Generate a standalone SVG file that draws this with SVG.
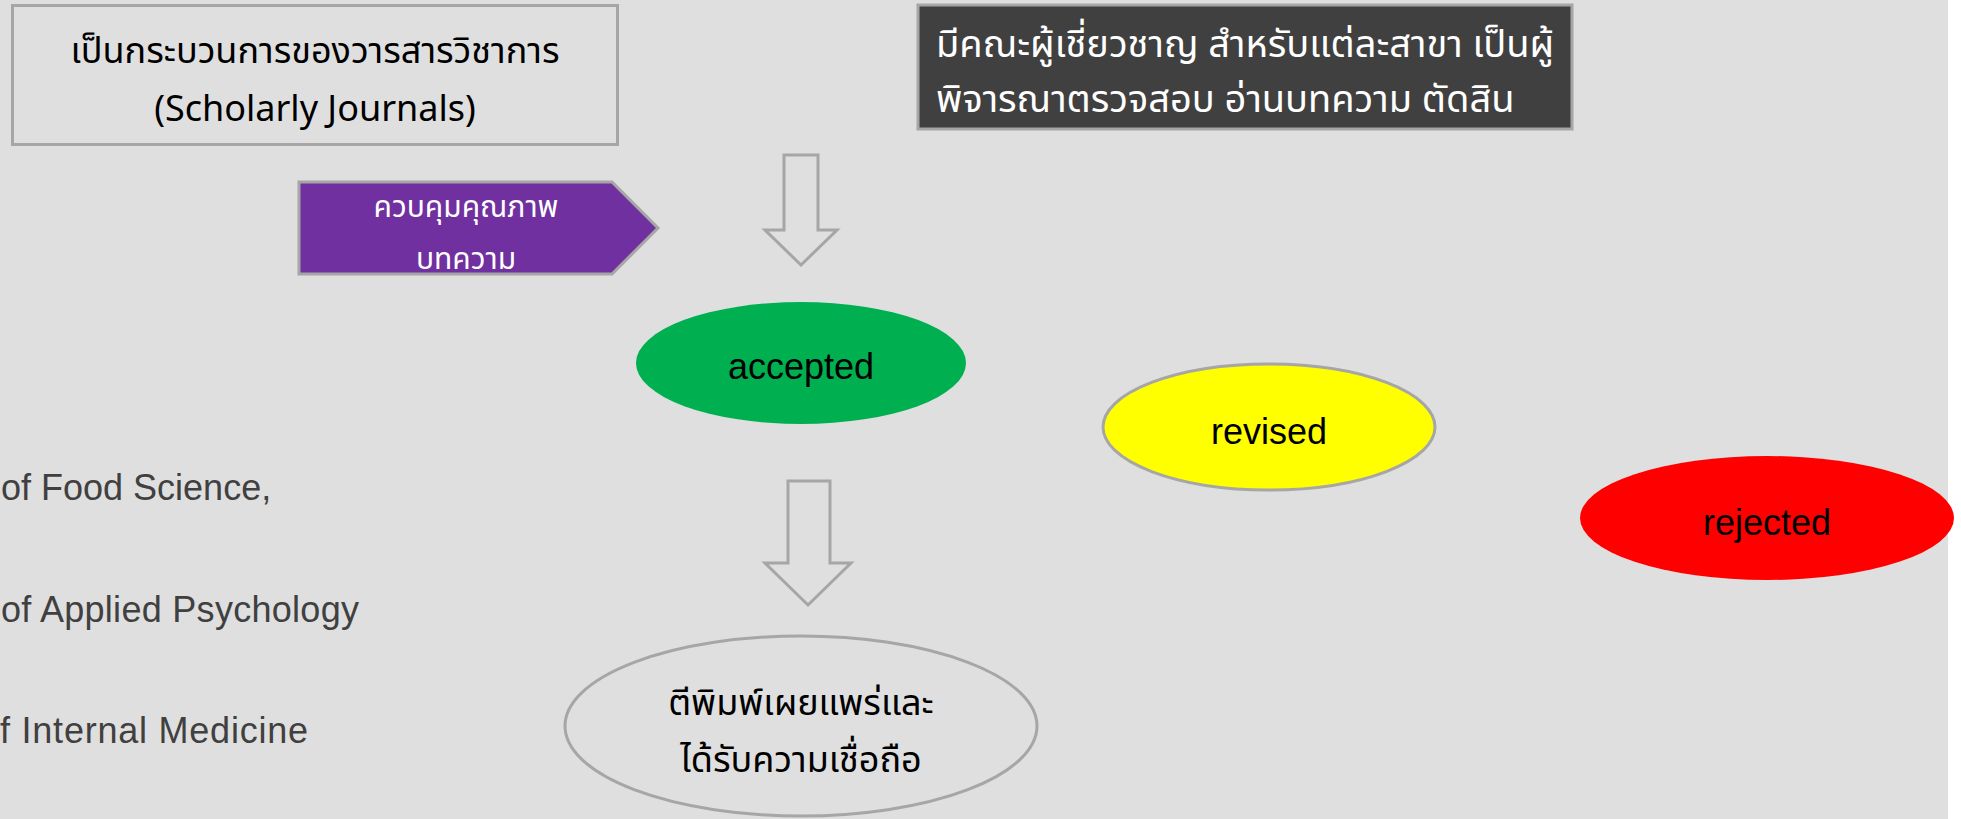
<svg xmlns="http://www.w3.org/2000/svg" width="1961" height="819" viewBox="0 0 1961 819">
<style>
.th{font-family:"Noto Sans Thai","Noto Sans Thai Looped","Noto Sans","DejaVu Sans",sans-serif;}
.lat{font-family:"Liberation Sans","Noto Sans",sans-serif;}
.box{stroke:#a6a6a6;stroke-width:3;}
.arrow{fill:#dfdfdf;stroke:#a6a6a6;stroke-width:3;stroke-linejoin:miter;}
</style>
<rect x="0" y="0" width="1961" height="819" fill="#ffffff"/>
<rect x="0" y="0" width="1948" height="819" fill="#dfdfdf"/>

<g id="journal-process">
<rect class="box" x="12.5" y="5.5" width="605" height="139" fill="#dfdfdf"/>
<text class="th" x="315" y="63" font-size="36" text-anchor="middle" fill="#000">เป็นกระบวนการของวารสารวิชาการ</text>
<text class="th" x="315" y="121" font-size="36" text-anchor="middle" fill="#000">(Scholarly Journals)</text>
</g>

<g id="experts">
<rect class="box" x="918" y="5" width="654" height="124" fill="#404040"/>
<text class="th" x="936" y="57" font-size="38" fill="#ffffff">มีคณะผู้เชี่ยวชาญ สำหรับแต่ละสาขา เป็นผู้</text>
<text class="th" x="936" y="112" font-size="38" fill="#ffffff">พิจารณาตรวจสอบ อ่านบทความ ตัดสิน</text>
</g>

<g id="quality">
<polygon class="box" points="299,182 612,182 658,228 612,274 299,274" fill="#7030a0"/>
<text class="th" x="466" y="217" font-size="30" text-anchor="middle" fill="#ffffff">ควบคุมคุณภาพ</text>
<text class="th" x="466" y="269" font-size="30" text-anchor="middle" fill="#ffffff">บทความ</text>
</g>

<g id="accepted">
<ellipse cx="801" cy="363" rx="165" ry="61" fill="#00b050"/>
<text class="lat" x="801" y="379" font-size="36" text-anchor="middle" fill="#000">accepted</text>
</g>

<g id="revised">
<ellipse class="box" cx="1269" cy="427" rx="166" ry="63" fill="#ffff00"/>
<text class="lat" x="1269" y="444" font-size="36" text-anchor="middle" fill="#000">revised</text>
</g>

<g id="rejected">
<ellipse cx="1767" cy="518" rx="187" ry="62" fill="#ff0000"/>
<text class="lat" x="1767" y="535" font-size="36" text-anchor="middle" fill="#000">rejected</text>
</g>

<g id="published">
<ellipse class="box" cx="801" cy="726" rx="236" ry="90" fill="#dfdfdf"/>
<text class="th" x="801" y="715" font-size="36" text-anchor="middle" fill="#000">ตีพิมพ์เผยแพร่และ</text>
<text class="th" x="801" y="772" font-size="36" text-anchor="middle" fill="#000">ได้รับความเชื่อถือ</text>
</g>

<g id="journals-list" class="lat" font-size="36" fill="#404040">
<text x="1" y="500">of Food Science,</text>
<text x="1" y="622" textLength="358">of Applied Psychology</text>
<text x="0" y="743" textLength="308">f Internal Medicine</text>
</g>

<g id="connectors">
<polygon class="arrow" points="784,155 818,155 818,230 837,230 801,265 765,230 784,230"/>
<polygon class="arrow" points="788,481 830,481 830,563 851,563 808,605 765,563 788,563"/>
</g>
</svg>
